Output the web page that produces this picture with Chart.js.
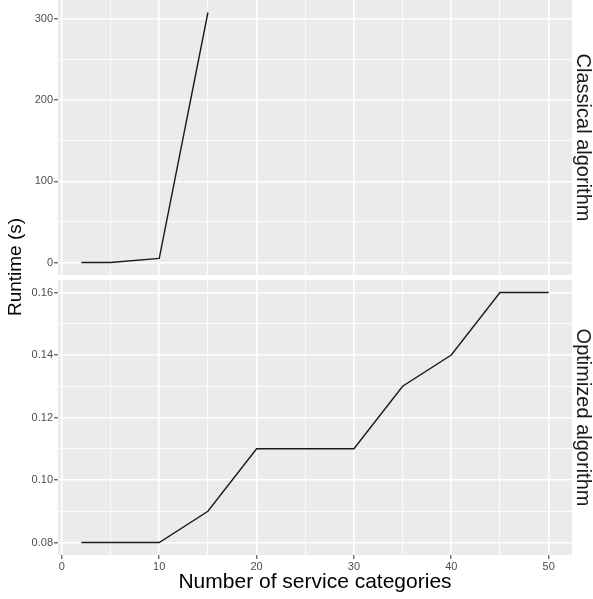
<!DOCTYPE html>
<html>
<head>
<meta charset="utf-8">
<script src="https://cdn.jsdelivr.net/npm/chart.js@4/dist/chart.umd.min.js"></script>
<style>
  body { margin: 0; background: #fff; }
  #wrap { position: relative; width: 593px; height: 599px; }
  #wrap canvas { position: absolute; left: 0; top: 0; }
</style>
</head>
<body>
<div id="wrap">
  <canvas id="topChart" width="593" height="599"></canvas>
  <canvas id="bottomChart" width="593" height="599"></canvas>
</div>
<script>
// données
const categories = [2, 5, 10, 15, 20, 25, 30, 35, 40, 45, 50];
const classicalRuntime = [0, 0, 5, 308];
const optimizedRuntime = [0.08, 0.08, 0.08, 0.09, 0.11, 0.11, 0.11, 0.13, 0.14, 0.16, 0.16];
const xTicks = [0, 5, 10, 15, 20, 25, 30, 35, 40, 45, 50];
const classicalTicks = [0, 50, 100, 150, 200, 250, 300];
const optimizedTicks = [0.08, 0.09, 0.10, 0.11, 0.12, 0.13, 0.14, 0.15, 0.16];

const tickFont = { family: 'Liberation Sans, Arial', size: 11 };
const panelBg = '#EBEBEB';

function toPoints(ys) {
    return ys.map((y, i) => ({ x: categories[i], y: y }));
}

// fond gris du panneau + libellé du bandeau à droite
function panelPlugin(label, drawYTitle) {
    return {
        id: 'panel',
        beforeDraw(chart) {
            const a = chart.chartArea;
            const ctx = chart.ctx;
            ctx.save();
            ctx.fillStyle = panelBg;
            ctx.fillRect(a.left, a.top, a.right - a.left, a.bottom - a.top);
            ctx.restore();
        },
        afterDraw(chart) {
            const a = chart.chartArea;
            const ctx = chart.ctx;
            ctx.save();
            ctx.fillStyle = '#1a1a1a';
            ctx.font = '20px "Liberation Sans", Arial';
            ctx.textAlign = 'center';
            ctx.textBaseline = 'middle';
            ctx.translate(583, (a.top + a.bottom) / 2);
            ctx.rotate(Math.PI / 2);
            ctx.fillText(label, 0, 0);
            ctx.restore();
            if (drawYTitle) {
                ctx.save();
                ctx.fillStyle = '#000';
                ctx.font = '19px "Liberation Sans", Arial';
                ctx.textAlign = 'center';
                ctx.textBaseline = 'middle';
                ctx.translate(16, 267);
                ctx.rotate(-Math.PI / 2);
                ctx.fillText('Runtime (s)', 0, 0);
                ctx.restore();
            }
        }
    };
}

function gridOpts(isMajor) {
    return {
        color: '#FFFFFF',
        lineWidth: (c) => (c.tick && isMajor(c.tick.value)) ? 1.6 : 0.8,
        tickColor: (c) => (c.tick && isMajor(c.tick.value)) ? '#333333' : 'rgba(0,0,0,0)',
        tickWidth: 1,
        tickLength: 4
    };
}

const xMajor = (v) => Math.round(v) % 10 === 0;

function xScale(showTicks, height, extra) {
    return Object.assign({
        type: 'linear',
        min: -0.4,
        max: 52.4,
        afterBuildTicks: (s) => { s.ticks = xTicks.map(v => ({ value: v })); },
        afterFit: (s) => { s.height = height; s.paddingLeft = 0; s.paddingRight = 0; },
        border: { display: false },
        grid: Object.assign(gridOpts(xMajor), { drawTicks: showTicks }),
        ticks: {
            display: showTicks,
            padding: 1,
            maxRotation: 0,
            autoSkip: false,
            color: '#4D4D4D',
            font: tickFont,
            callback: (v) => xMajor(v) ? String(v) : ''
        }
    }, extra);
}

function yFit(s) {
    s.width = 58;
    s.paddingTop = 0;
    s.paddingBottom = 0;
}

const lineStyle = {
    borderColor: '#1a1a1a',
    borderWidth: 1.4,
    pointRadius: 0,
    tension: 0,
    fill: false
};

// Graphique algorithme classique
const topChart = new Chart(document.getElementById('topChart'), {
    type: 'line',
    data: {
        datasets: [Object.assign({ data: toPoints(classicalRuntime) }, lineStyle)]
    },
    options: {
        responsive: false,
        animation: false,
        layout: { padding: { left: 0, right: 21, top: 0, bottom: 324 } },
        plugins: { legend: { display: false }, tooltip: { enabled: false } },
        scales: {
            x: xScale(false, 0, {}),
            y: {
                min: -15.4,
                max: 323.4,
                afterFit: yFit,
                afterBuildTicks: (s) => { s.ticks = classicalTicks.map(v => ({ value: v })); },
                border: { display: false },
                grid: gridOpts((v) => Math.round(v) % 100 === 0),
                ticks: {
                    padding: 1,
                    autoSkip: false,
                    color: '#4D4D4D',
                    font: tickFont,
                    callback: (v) => Math.round(v) % 100 === 0 ? String(v) : ''
                }
            }
        }
    },
    plugins: [panelPlugin('Classical algorithm', false)]
});

// Graphique algorithme optimisé
const optMajor = (v) => Math.round(v * 100) % 2 === 0;
const bottomChart = new Chart(document.getElementById('bottomChart'), {
    type: 'line',
    data: {
        datasets: [Object.assign({ data: toPoints(optimizedRuntime) }, lineStyle)]
    },
    options: {
        responsive: false,
        animation: false,
        layout: { padding: { left: 0, right: 21, top: 280, bottom: 0 } },
        plugins: { legend: { display: false }, tooltip: { enabled: false } },
        scales: {
            x: xScale(true, 44, {
                title: {
                    display: true,
                    text: 'Number of service categories',
                    color: '#000',
                    font: { family: 'Liberation Sans, Arial', size: 21 },
                    padding: { top: 0, bottom: 4 }
                }
            }),
            y: {
                min: 0.076,
                max: 0.164,
                afterFit: yFit,
                afterBuildTicks: (s) => { s.ticks = optimizedTicks.map(v => ({ value: v })); },
                border: { display: false },
                grid: gridOpts(optMajor),
                ticks: {
                    padding: 1,
                    autoSkip: false,
                    color: '#4D4D4D',
                    font: tickFont,
                    callback: (v) => optMajor(v) ? v.toFixed(2) : ''
                }
            }
        }
    },
    plugins: [panelPlugin('Optimized algorithm', true)]
});
</script>
</body>
</html>
